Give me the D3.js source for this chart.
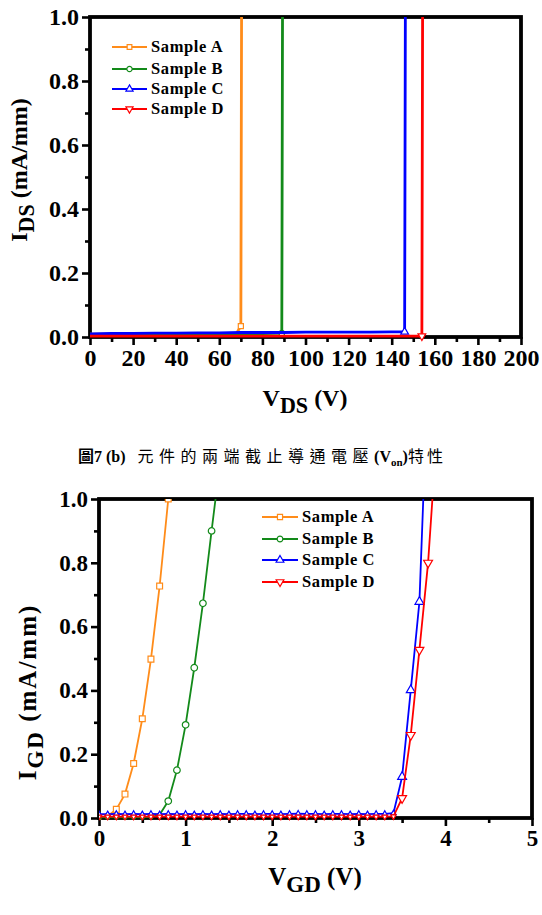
<!DOCTYPE html>
<html>
<head>
<meta charset="utf-8">
<script src="https://cdn.jsdelivr.net/npm/d3@7"></script>
<style>
  body { margin: 0; background: #fff; }
</style>
</head>
<body>
<svg id="fig" width="542" height="915"></svg>
<script>
const samples = ["Sample A", "Sample B", "Sample C", "Sample D"];
const colors = ["#ff8c1a", "#138a1a", "#0000ff", "#ff0000"];

const SERIF = '"Liberation Serif", "DejaVu Serif", "Times New Roman", serif';
const CJK = '"Noto Sans CJK TC", "Noto Sans CJK SC", sans-serif';

// (a) I_DS vs V_DS, off-state breakdown
const vdsA = [0, 10, 20, 30, 40, 50, 60, 68, 70, 70.4];
const idsA = [0.009, 0.009, 0.010, 0.010, 0.010, 0.011, 0.011, 0.012, 0.034, 1.2];
const vdsB = [0, 10, 20, 30, 40, 50, 60, 70, 80, 89, 89.4];
const idsB = [0.008, 0.008, 0.009, 0.009, 0.009, 0.010, 0.010, 0.010, 0.011, 0.012, 1.2];
const vdsC = [0, 10, 20, 30, 40, 50, 60, 70, 80, 90, 100, 110, 120, 130, 140, 146, 146.4];
const idsC = [0.010, 0.011, 0.011, 0.012, 0.012, 0.013, 0.013, 0.014, 0.014, 0.014, 0.015, 0.015, 0.015, 0.015, 0.016, 0.016, 1.2];
const vdsD = [0, 10, 20, 30, 40, 50, 60, 70, 80, 90, 100, 110, 120, 130, 140, 150, 154, 154.4];
const idsD = [0.003, 0.003, 0.003, 0.003, 0.003, 0.003, 0.003, 0.003, 0.003, 0.003, 0.003, 0.003, 0.003, 0.003, 0.003, 0.003, 0.003, 1.2];

// (b) I_GD vs V_GD, turn-on
const vgdA = [0, 0.1, 0.2, 0.3, 0.4, 0.5, 0.6, 0.7, 0.8];
const igdA = [0.002, 0.006, 0.027, 0.075, 0.171, 0.311, 0.498, 0.727, 1.0];
const vgdB = [0, 0.1, 0.2, 0.3, 0.4, 0.5, 0.6, 0.7, 0.8, 0.9, 1.0, 1.1, 1.2, 1.3, 1.4];
const igdB = [0.002, 0.002, 0.002, 0.002, 0.002, 0.002, 0.003, 0.010, 0.053, 0.150, 0.292, 0.471, 0.673, 0.900, 1.12];
const vgdC = [0, 0.1, 0.2, 0.3, 0.4, 0.5, 0.6, 0.7, 0.8, 0.9, 1.0, 1.1, 1.2, 1.3, 1.4, 1.5, 1.6, 1.7, 1.8, 1.9,
              2.0, 2.1, 2.2, 2.3, 2.4, 2.5, 2.6, 2.7, 2.8, 2.9, 3.0, 3.1, 3.2, 3.3, 3.4, 3.5, 3.6, 3.7, 3.8];
const igdC = [0.012, 0.012, 0.013, 0.012, 0.013, 0.012, 0.013, 0.012, 0.013, 0.012, 0.013, 0.012, 0.013, 0.012, 0.013, 0.012, 0.013, 0.013, 0.012, 0.013,
              0.013, 0.012, 0.013, 0.014, 0.013, 0.013, 0.012, 0.013, 0.013, 0.012, 0.013, 0.012, 0.013, 0.013, 0.015, 0.129, 0.401, 0.678, 1.40];
const vgdD = [0, 0.1, 0.2, 0.3, 0.4, 0.5, 0.6, 0.7, 0.8, 0.9, 1.0, 1.1, 1.2, 1.3, 1.4, 1.5, 1.6, 1.7, 1.8, 1.9,
              2.0, 2.1, 2.2, 2.3, 2.4, 2.5, 2.6, 2.7, 2.8, 2.9, 3.0, 3.1, 3.2, 3.3, 3.4, 3.5, 3.6, 3.7, 3.8, 3.9];
const igdD = [0.004, 0.004, 0.004, 0.004, 0.004, 0.004, 0.004, 0.004, 0.004, 0.004, 0.004, 0.004, 0.004, 0.004, 0.004, 0.004, 0.004, 0.004, 0.004, 0.004,
              0.004, 0.004, 0.004, 0.004, 0.004, 0.004, 0.004, 0.004, 0.004, 0.004, 0.004, 0.004, 0.004, 0.004, 0.005, 0.062, 0.260, 0.527, 0.800, 1.20];

const svg = d3.select("#fig");

function symbolFor(i, size) {
  const types = [d3.symbolSquare, d3.symbolCircle, d3.symbolTriangle, d3.symbolTriangle];
  return d3.symbol().type(types[i]).size(size)();
}

function drawMarker(g, i, cx, cy, size) {
  g.append("path")
    .attr("d", symbolFor(i, size))
    .attr("transform", `translate(${cx},${cy})` + (i === 3 ? " rotate(180)" : ""))
    .attr("fill", "#fff")
    .attr("stroke", colors[i])
    .attr("stroke-width", 1.2);
}

function serifText(sel, size) {
  return sel.style("font-family", SERIF).style("font-weight", "bold")
    .style("font-size", size + "px").attr("fill", "#000");
}

function panel(opt) {
  const g = svg.append("g");
  const x = d3.scaleLinear().domain(opt.xDomain).range([opt.left, opt.right]);
  const y = d3.scaleLinear().domain([0, 1]).range([opt.bottom, opt.top]);

  const clipId = "clip" + opt.id;
  svg.append("clipPath").attr("id", clipId)
    .append("rect").attr("x", opt.left).attr("y", opt.top)
    .attr("width", opt.right - opt.left).attr("height", opt.bottom - opt.top + 8);

  // minor ticks
  g.append("g").attr("transform", `translate(0,${opt.bottom})`)
    .call(d3.axisBottom(x).tickValues(opt.xMinor).tickSize(5).tickFormat(""));
  g.append("g").attr("transform", `translate(${opt.left},0)`)
    .call(d3.axisLeft(y).tickValues([0.1, 0.3, 0.5, 0.7, 0.9]).tickSize(5).tickFormat(""));

  // major ticks
  g.append("g").attr("transform", `translate(0,${opt.bottom})`)
    .call(d3.axisBottom(x).tickValues(opt.xMajor).tickSize(8).tickPadding(4).tickFormat(opt.xFormat));
  g.append("g").attr("transform", `translate(${opt.left},0)`)
    .call(d3.axisLeft(y).tickValues([0, 0.2, 0.4, 0.6, 0.8, 1.0]).tickSize(8).tickPadding(opt.yPad).tickFormat(d3.format(".1f")));

  g.selectAll(".domain").remove();
  g.selectAll(".tick line").attr("stroke", "#000").attr("stroke-width", 2.6);
  serifText(g.selectAll(".tick text"), opt.tickSize);

  g.append("rect")
    .attr("x", opt.left).attr("y", opt.top)
    .attr("width", opt.right - opt.left).attr("height", opt.bottom - opt.top)
    .attr("fill", "none").attr("stroke", "#000").attr("stroke-width", 3.8);

  const line = d3.line().x(d => x(d[0])).y(d => y(d[1]));
  const data = g.append("g").attr("clip-path", `url(#${clipId})`);

  opt.series.forEach((s, i) => {
    const pts = s.xs.map((v, k) => [v, s.ys[k]]);
    data.append("path").datum(pts)
      .attr("d", line)
      .attr("fill", "none")
      .attr("stroke", colors[i])
      .attr("stroke-width", opt.lineWidth);
    const shown = opt.kneeOnly ? [pts[pts.length - 2]] : pts;
    shown.forEach(p => {
      // points lying on the floor are drawn smaller, as in the scan
      const sz = p[1] < 0.02 && !opt.kneeOnly ? opt.floorMarker : opt.markerSize;
      drawMarker(data, i, x(p[0]), y(p[1]), sz);
    });
  });

  // legend
  samples.forEach((name, i) => {
    const ly = opt.legend.y[i];
    g.append("line")
      .attr("x1", opt.legend.x0).attr("x2", opt.legend.x1)
      .attr("y1", ly).attr("y2", ly)
      .attr("stroke", colors[i]).attr("stroke-width", 2);
    drawMarker(g, i, (opt.legend.x0 + opt.legend.x1) / 2, ly, opt.legendMarker);
    serifText(g.append("text"), 16.5)
      .attr("x", opt.legend.x1 + 4).attr("y", ly + 5)
      .attr("letter-spacing", 0.6)
      .text(name);
  });

  // axis titles
  const xt = serifText(g.append("text"), opt.titleSize)
    .attr("x", opt.xTitle.x).attr("y", opt.xTitle.y)
    .attr("text-anchor", "middle");
  xt.append("tspan").text("V");
  xt.append("tspan").attr("dy", 7).style("font-size", "92%").text(opt.xTitle.sub);
  xt.append("tspan").attr("dy", -7).text(" (V)");

  const yt = serifText(g.append("text"), opt.titleSize)
    .attr("transform", `translate(${opt.yTitle.x},${opt.yTitle.y}) rotate(-90)`)
    .attr("text-anchor", "middle")
    .attr("letter-spacing", opt.yTitle.spacing);
  yt.append("tspan").text("I");
  yt.append("tspan").attr("dy", 7).style("font-size", "92%").text(opt.yTitle.sub);
  yt.append("tspan").attr("dy", -7).text(" (mA/mm)");
}

panel({
  id: "a", left: 90, right: 521, top: 17, bottom: 337,
  xDomain: [0, 200],
  xMajor: [0, 20, 40, 60, 80, 100, 120, 140, 160, 180, 200],
  xMinor: [10, 30, 50, 70, 90, 110, 130, 150, 170, 190],
  xFormat: d3.format("d"), yPad: 3, tickSize: 24,
  series: [
    { xs: vdsA, ys: idsA }, { xs: vdsB, ys: idsB },
    { xs: vdsC, ys: idsC }, { xs: vdsD, ys: idsD }
  ],
  lineWidth: 2.8, kneeOnly: true, markerSize: 26, floorMarker: 26, legendMarker: 22,
  legend: { x0: 112, x1: 147, y: [47, 69, 89, 109] },
  titleSize: 24,
  xTitle: { x: 305, y: 406, sub: "DS" },
  yTitle: { x: 27, y: 170, sub: "DS", spacing: 0 }
});

panel({
  id: "b", left: 99, right: 532, top: 499, bottom: 818,
  xDomain: [0, 5],
  xMajor: [0, 1, 2, 3, 4, 5],
  xMinor: [0.5, 1.5, 2.5, 3.5, 4.5],
  xFormat: d3.format("d"), yPad: 3, tickSize: 23,
  series: [
    { xs: vgdA, ys: igdA }, { xs: vgdB, ys: igdB },
    { xs: vgdC, ys: igdC }, { xs: vgdD, ys: igdD }
  ],
  lineWidth: 1.8, kneeOnly: false, markerSize: 34, floorMarker: 12, legendMarker: 26,
  legend: { x0: 262, x1: 298, y: [517, 539, 560, 582] },
  titleSize: 25,
  xTitle: { x: 315, y: 885, sub: "GD" },
  yTitle: { x: 36, y: 692, sub: "GD", spacing: 2 }
});

// caption between the two figures
const cap = serifText(svg.append("text"), 16).attr("x", 78).attr("y", 462);
cap.append("tspan").style("font-family", CJK).text("圖");
cap.append("tspan").text("7 (b)");
cap.append("tspan").style("font-family", CJK).style("font-weight", "normal")
  .attr("dx", 12).attr("letter-spacing", 5.5).text("元件的兩端截止導通電壓");
cap.append("tspan").text("(V");
cap.append("tspan").style("font-size", "11px").attr("dy", 4).text("on");
cap.append("tspan").attr("dy", -4).text(")");
cap.append("tspan").style("font-family", CJK).style("font-weight", "normal")
  .attr("letter-spacing", 3).text("特性");
</script>
</body>
</html>
